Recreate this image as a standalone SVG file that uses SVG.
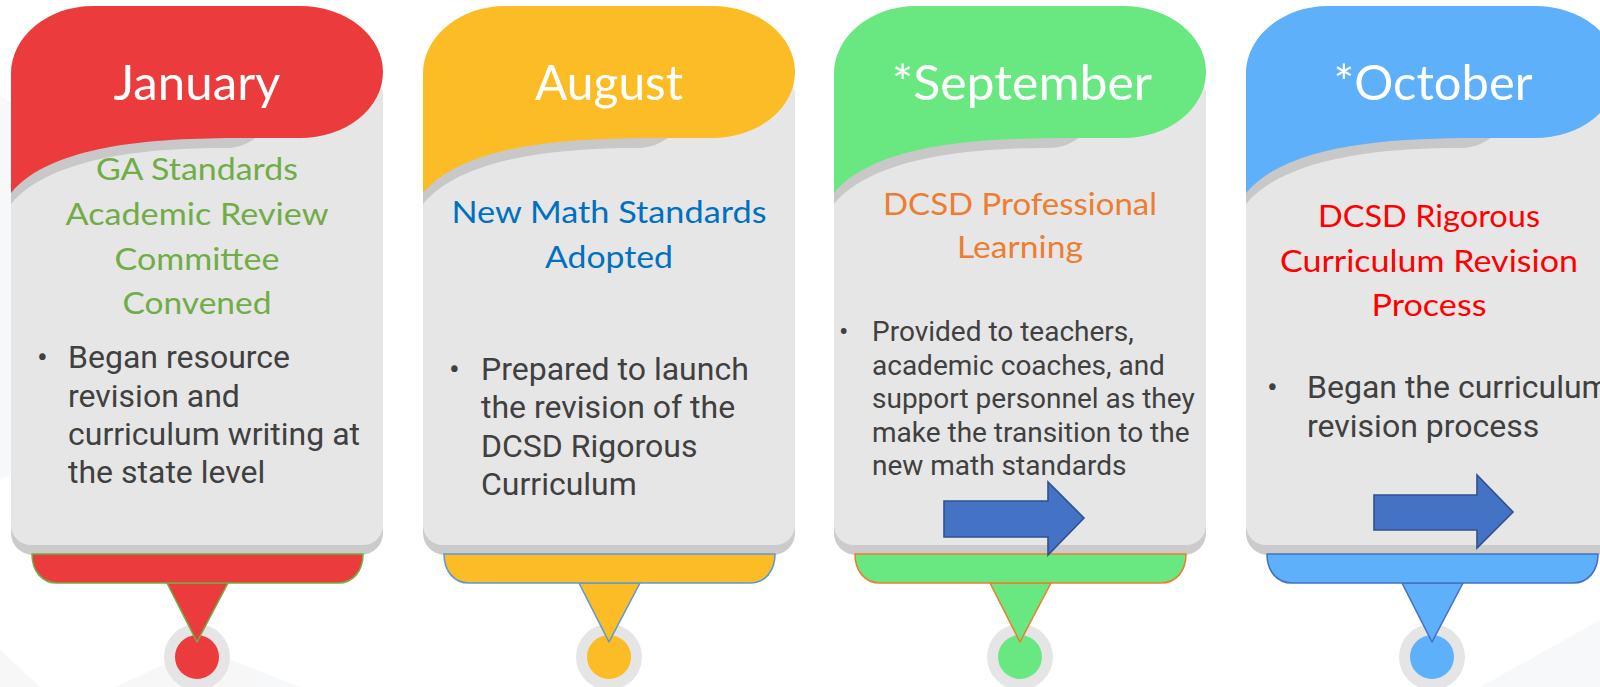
<svg xmlns="http://www.w3.org/2000/svg" width="1600" height="687" viewBox="0 0 1600 687">
<style>
.bodyShadow{fill:#CBCBCB}
.body{fill:#E6E6E6}
.hdrShadow{fill:#C8C8C8}
.title{font-family:Lato,"Open Sans",sans-serif;font-size:49px;fill:#FFFFFF;text-anchor:middle}
.sub{font-family:Lato,"Open Sans",sans-serif;font-size:30px;text-anchor:middle}
.txt{font-family:Roboto,"Liberation Sans",sans-serif;font-size:32px;fill:#404040}
.txt.small{font-size:28px}
.ring{fill:#E5E5E5}
.bar{stroke-width:1.6;stroke-linejoin:round}
.arrow{fill:#4472C4;stroke:#2F528F;stroke-width:1.6}
.red{fill:#EC3B3D}.yel{fill:#FBBC26}.grn{fill:#69E882}.blu{fill:#5DB0F9}
</style>
<defs>
<path id="hdr" d="M0 193 L0 74 C0 36.5 36.7 6 82 6 L289 6 A83 66 0 0 1 289 138 L232 138 C140 138 40 145 0 193 Z"/>
<path id="hdrSh" d="M0 204 C40 156 140 148 214 148 C228 148 236 144 246 137 L0 137 Z"/>
<path id="barShape" d="M21 554 L352 554 C352 571 342 583 327 583 L46 583 C31 583 21 571 21 554 Z"/>
</defs>
<rect width="1600" height="687" fill="#FFFFFF"/>
<g id="background" fill="#F4F5F6" opacity="0.7">
<polygon points="0,650 40,687 0,687"/>
<polygon points="115,687 200,648 300,687"/>
<polygon points="1480,687 1600,620 1600,687"/>
<polygon points="0,95 22,110 22,470 0,480"/>
</g>
<g id="node-january" transform="translate(11,0)">
<rect class="bodyShadow" x="0" y="75" width="372" height="480" rx="22"/>
<rect class="body" x="0" y="75" width="372" height="470" rx="20"/>
<circle class="ring" cx="186" cy="657" r="33"/>
<circle class="red" cx="186" cy="657" r="22"/>
<path class="red bar" d="M156 583 L186 642 L217 583 Z" stroke="#70AD47"/>
<path class="red bar" d="M21 554 L352 554 C352 571 342 583 327 583 L46 583 C31 583 21 571 21 554 Z" stroke="#70AD47"/>
<use href="#hdrSh" class="hdrShadow"/>
<use href="#hdr" class="red"/>
<text class="title" x="186" y="100" textLength="167" lengthAdjust="spacingAndGlyphs">January</text>
<g class="sub" fill="#70AD47">
<text x="186" y="180" textLength="202" lengthAdjust="spacingAndGlyphs">GA Standards</text>
<text x="186" y="225" textLength="263" lengthAdjust="spacingAndGlyphs">Academic Review</text>
<text x="186" y="270" textLength="165" lengthAdjust="spacingAndGlyphs">Committee</text>
<text x="186" y="314" textLength="149" lengthAdjust="spacingAndGlyphs">Convened</text>
</g>
<g class="txt">
<text x="26" y="368">•</text>
<text x="57" y="368">Began resource</text>
<text x="57" y="407">revision and</text>
<text x="57" y="445">curriculum writing at</text>
<text x="57" y="483">the state level</text>
</g>
</g>
<g id="node-august" transform="translate(423,0)">
<rect class="bodyShadow" x="0" y="75" width="372" height="480" rx="22"/>
<rect class="body" x="0" y="75" width="372" height="470" rx="20"/>
<circle class="ring" cx="186" cy="657" r="33"/>
<circle class="yel" cx="186" cy="657" r="22"/>
<path class="yel bar" d="M156 583 L186 642 L217 583 Z" stroke="#5B9BD5"/>
<path class="yel bar" d="M21 554 L352 554 C352 571 342 583 327 583 L46 583 C31 583 21 571 21 554 Z" stroke="#5B9BD5"/>
<use href="#hdrSh" class="hdrShadow"/>
<use href="#hdr" class="yel"/>
<text class="title" x="186" y="100" textLength="148" lengthAdjust="spacingAndGlyphs">August</text>
<g class="sub" fill="#0070C0">
<text x="186" y="223" textLength="315" lengthAdjust="spacingAndGlyphs">New Math Standards</text>
<text x="186" y="268" textLength="128" lengthAdjust="spacingAndGlyphs">Adopted</text>
</g>
<g class="txt">
<text x="26" y="380">•</text>
<text x="58" y="380">Prepared to launch</text>
<text x="58" y="418">the revision of the</text>
<text x="58" y="457">DCSD Rigorous</text>
<text x="58" y="495">Curriculum</text>
</g>
</g>
<g id="node-september" transform="translate(834,0)">
<rect class="bodyShadow" x="0" y="75" width="372" height="480" rx="22"/>
<rect class="body" x="0" y="75" width="372" height="470" rx="20"/>
<circle class="ring" cx="186" cy="657" r="33"/>
<circle class="grn" cx="186" cy="657" r="22"/>
<path class="grn bar" d="M156 583 L186 642 L217 583 Z" stroke="#ED7D31"/>
<path class="grn bar" d="M21 554 L352 554 C352 571 342 583 327 583 L46 583 C31 583 21 571 21 554 Z" stroke="#ED7D31"/>
<use href="#hdrSh" class="hdrShadow"/>
<use href="#hdr" class="grn"/>
<text class="title" x="188" y="100" textLength="260" lengthAdjust="spacingAndGlyphs">*September</text>
<g class="sub" fill="#ED7D31">
<text x="186" y="215" textLength="274" lengthAdjust="spacingAndGlyphs">DCSD Professional</text>
<text x="186" y="258" textLength="126" lengthAdjust="spacingAndGlyphs">Learning</text>
</g>
<g class="txt small">
<text x="5" y="341">•</text>
<text x="38" y="341">Provided to teachers,</text>
<text x="38" y="375">academic coaches, and</text>
<text x="38" y="408">support personnel as they</text>
<text x="38" y="442">make the transition to the</text>
<text x="38" y="475">new math standards</text>
</g>
</g>
<g id="node-october" transform="translate(1246,0)">
<rect class="bodyShadow" x="0" y="75" width="372" height="480" rx="22"/>
<rect class="body" x="0" y="75" width="372" height="470" rx="20"/>
<circle class="ring" cx="186" cy="657" r="33"/>
<circle class="blu" cx="186" cy="657" r="22"/>
<path class="blu bar" d="M156 583 L186 642 L217 583 Z" stroke="#4472C4"/>
<path class="blu bar" d="M21 554 L352 554 C352 571 342 583 327 583 L46 583 C31 583 21 571 21 554 Z" stroke="#4472C4"/>
<use href="#hdrSh" class="hdrShadow"/>
<use href="#hdr" class="blu"/>
<text class="title" x="187" y="100" textLength="199" lengthAdjust="spacingAndGlyphs">*October</text>
<g class="sub" fill="#FF0000">
<text x="183" y="227" textLength="222" lengthAdjust="spacingAndGlyphs">DCSD Rigorous</text>
<text x="183" y="272" textLength="298" lengthAdjust="spacingAndGlyphs">Curriculum Revision</text>
<text x="183" y="316" textLength="115" lengthAdjust="spacingAndGlyphs">Process</text>
</g>
<g class="txt">
<text x="21" y="398">•</text>
<text x="61" y="398">Began the curriculum</text>
<text x="61" y="437">revision process</text>
</g>
</g>
<g id="connectors">
<polygon class="arrow" points="944,501 1048,501 1048,482 1084,518 1048,555 1048,537 944,537"/>
<polygon class="arrow" points="1374,495 1477,495 1477,475 1513,512 1477,548 1477,530 1374,530"/>
</g>
</svg>
